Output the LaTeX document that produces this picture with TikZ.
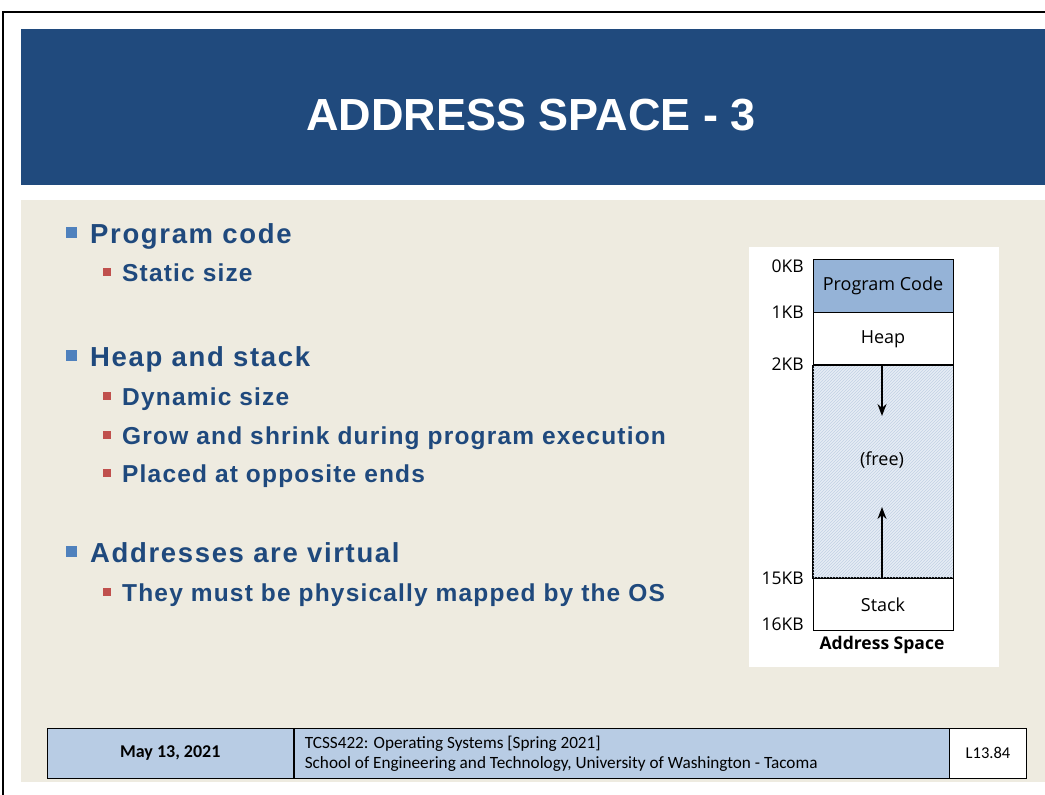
\documentclass[tikz,border=0pt]{standalone}
\usepackage{fontspec}
\setmainfont{Liberation Sans}
\newfontfamily\titlefont{Liberation Sans}
\newfontfamily\headfont[LetterSpace=6]{Liberation Sans}
\newfontfamily\bodyfont[LetterSpace=4.8]{Liberation Sans}
\newfontfamily\diagfont{Open Sans}
\newfontfamily\footfont{Carlito}
\usetikzlibrary{arrows.meta,patterns}

\definecolor{titleblue}{HTML}{204A7D}
\definecolor{pagebeige}{HTML}{EEEBE0}
\definecolor{textblue}{HTML}{1F497D}
\definecolor{bulletblue}{HTML}{4F81BD}
\definecolor{bulletred}{HTML}{C0504D}
\definecolor{codefill}{HTML}{95B3D7}
\definecolor{freefill}{HTML}{E6EDF5}
\definecolor{hatch}{HTML}{C2D1E4}
\definecolor{footfill}{HTML}{B8CCE4}

\tikzset{
  lvlone/.style={anchor=base west, inner sep=0pt, text=textblue,
    font=\headfont\bfseries\fontsize{27.5}{32}\selectfont},
  lvltwo/.style={anchor=base west, inner sep=0pt, text=textblue,
    font=\bodyfont\bfseries\fontsize{24.5}{28}\selectfont},
  sqone/.style={fill=bulletblue, draw=none, minimum size=11pt, inner sep=0pt},
  sqtwo/.style={fill=bulletred, draw=none, minimum size=8pt, inner sep=0pt},
  memrow/.style={draw=black, line width=0.8pt, minimum width=140pt, inner sep=0pt,
    font=\diagfont\fontsize{18}{21}\selectfont},
  kblabel/.style={anchor=east, inner sep=0pt, font=\diagfont\fontsize{17.5}{21}\selectfont},
  growth/.style={-{Stealth[length=12pt,width=9pt]}, line width=1.5pt},
  footcell/.style={draw=black, line width=0.6pt, minimum height=50pt, inner sep=0pt,
    font=\footfont\fontsize{16.5}{20}\selectfont},
}

\begin{document}
\begin{tikzpicture}[x=1pt,y=-1pt]
  \useasboundingbox (0,0) rectangle (1045,795);
  \fill[white] (0,0) rectangle (1045,795);

  % slide frame
  \draw[line width=2pt] (3,795) -- (3,12) -- (1045,12);

  % title bar
  \fill[titleblue] (21,29) rectangle (1045,185);
  \node[anchor=base, inner sep=0pt, text=white,
        font=\titlefont\bfseries\fontsize{45}{54}\selectfont] (title) at (531,130) {ADDRESS SPACE - 3};

  % content area
  \fill[pagebeige] (21,200) rectangle (1045,782);

  % bullet list
  \node[sqone] (b1) at (71.5,232.5) {};
  \node[lvlone] (t1) at (90,243) {Program code};
  \node[sqtwo] (b11) at (106.5,271.5) {};
  \node[lvltwo] (t11) at (122,281) {Static size};

  \node[sqone] (b2) at (71.5,355.5) {};
  \node[lvlone] (t2) at (90,366) {Heap and stack};
  \node[sqtwo] (b21) at (106.5,395.5) {};
  \node[lvltwo] (t21) at (122,405) {Dynamic size};
  \node[sqtwo] (b22) at (106.5,434.5) {};
  \node[lvltwo] (t22) at (122,444) {Grow and shrink during program execution};
  \node[sqtwo] (b23) at (106.5,472.5) {};
  \node[lvltwo] (t23) at (122,482) {Placed at opposite ends};

  \node[sqone] (b3) at (71.5,551.5) {};
  \node[lvlone] (t3) at (90,562) {Addresses are virtual};
  \node[sqtwo] (b31) at (106.5,591.5) {};
  \node[lvltwo] (t31) at (122,601) {They must be physically mapped by the OS};

  % address space diagram
  \fill[white] (749,247) rectangle (999,667);
  \node[memrow, fill=codefill, minimum height=53pt] (code) at (883,285.5) {Program Code};
  \node[memrow, fill=white, minimum height=52pt, anchor=north] (heap) at (code.south) {Heap};
  \node[memrow, fill=freefill, minimum height=212pt, anchor=north] (free) at (heap.south) {};
  \fill[pattern=north east lines, pattern color=hatch] (free.south west) rectangle (free.north east);
  \draw[line width=0.8pt] (free.south west) rectangle (free.north east);
  \node[inner sep=0pt, font=\diagfont\fontsize{18}{21}\selectfont] (freelbl) at (882,460) {(free)};
  \node[memrow, fill=white, minimum height=52pt, anchor=north] (stack) at (free.south) {Stack};

  \coordinate (heaptip) at (882,416);
  \coordinate (stacktip) at (882,507);
  \draw[growth] (heap.south -| heaptip) -- (heaptip);
  \draw[growth] (stack.north -| stacktip) -- (stacktip);

  \node[kblabel] (kb0) at (804,266) {0KB};
  \node[kblabel] (kb1) at (804,312) {1KB};
  \node[kblabel] (kb2) at (804,364) {2KB};
  \node[kblabel] (kb15) at (804,578) {15KB};
  \node[kblabel] (kb16) at (804,624) {16KB};
  \node[inner sep=0pt, font=\diagfont\bfseries\fontsize{17.5}{21}\selectfont] (caption) at (882,645) {Address Space};

  % footer
  \node[footcell, fill=footfill, minimum width=246pt, anchor=north west, font=\footfont\bfseries\fontsize{18}{21}\selectfont] (date) at (47,728) {May 13, 2021};
  \node[footcell, fill=footfill, minimum width=655pt, anchor=north west] (course) at (date.north east) {};
  \node[anchor=west, inner sep=0pt, align=left, font=\footfont\fontsize{17.2}{20}\selectfont] (coursetxt) at ([xshift=11pt,yshift=-0.5pt]course.west)
    {TCSS422: Operating Systems [Spring 2021]\\School of Engineering and Technology, University of Washington - Tacoma};
  \node[footcell, fill=white, minimum width=77pt, anchor=north west] (slide) at (course.north east) {L13.84};
\end{tikzpicture}
\end{document}
